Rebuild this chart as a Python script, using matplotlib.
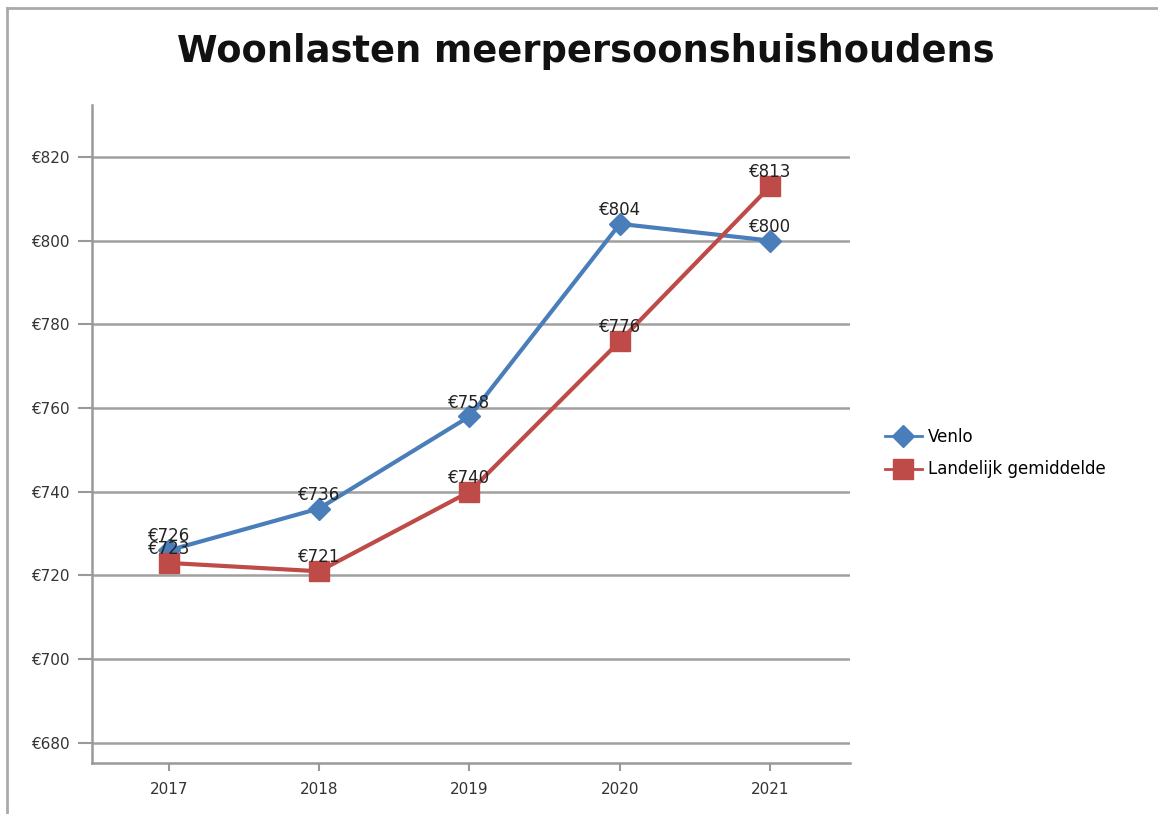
import matplotlib
matplotlib.use("Agg")
import matplotlib.pyplot as plt
from matplotlib.lines import Line2D

years = ["2017", "2018", "2019", "2020", "2021"]
venlo = [726, 736, 758, 804, 800]
landelijk = [723, 721, 740, 776, 813]
y_ticks = [680, 700, 720, 740, 760, 780, 800, 820]

BLUE = "#4a7ebb"
RED = "#be4b48"

fig = plt.figure(figsize=(11.58, 8.14), dpi=100)
ax = fig.add_axes([92 / 1158, 1 - 763 / 814, (850 - 92) / 1158, (763 - 105) / 814])

x = list(range(len(years)))
ax.plot(x, venlo, color=BLUE, lw=3, marker="D", ms=11,
        markerfacecolor=BLUE, markeredgecolor=BLUE, zorder=3, label="Venlo")
ax.plot(x, landelijk, color=RED, lw=3, marker="s", ms=14,
        markerfacecolor=RED, markeredgecolor=RED, zorder=4, label="Landelijk gemiddelde")

for xi, v in zip(x, venlo):
    ax.annotate(f"€{v}", (xi, v), xytext=(0, 10), textcoords="offset points",
                ha="center", va="center", fontsize=12, color="#222222", zorder=6)
for xi, v in zip(x, landelijk):
    ax.annotate(f"€{v}", (xi, v), xytext=(0, 10), textcoords="offset points",
                ha="center", va="center", fontsize=12, color="#222222", zorder=6)

ax.set_xlim(-0.51, len(years) - 0.47)
ax.set_ylim(675.2, 832.4)
ax.set_xticks(x)
ax.set_xticklabels(years)
ax.set_yticks(y_ticks)
ax.set_yticklabels([f"€{t}" for t in y_ticks])
ax.tick_params(axis="both", labelsize=11, colors="#333333")
ax.tick_params(axis="y", length=10, color="#999999", width=1.5, pad=6)
ax.tick_params(axis="x", length=6, color="#999999", width=1.5, pad=8)
ax.grid(axis="y", color="#a0a0a0", lw=1.8)
ax.set_axisbelow(True)
for side in ["top", "right"]:
    ax.spines[side].set_visible(False)
for side in ["left", "bottom"]:
    ax.spines[side].set_color("#999999")
    ax.spines[side].set_linewidth(1.8)

handles = [
    Line2D([], [], color=BLUE, lw=2, marker="D", ms=11, markeredgecolor=BLUE),
    Line2D([], [], color=RED, lw=2, marker="s", ms=14, markeredgecolor=RED),
]
fig.legend(handles, ["Venlo", "Landelijk gemiddelde"], loc="center left",
           bbox_to_anchor=(870 / 1158, 1 - 453 / 814), frameon=False,
           fontsize=12, handlelength=2.2, labelspacing=0.9, handletextpad=0.4)

fig.text(0.506, 1 - 51 / 814, "Woonlasten meerpersoonshuishoudens",
         ha="center", va="center", fontsize=26.5, fontweight="bold", color="#111111")

# grey frame around the chart
fig.add_artist(Line2D([7 / 1158, 7 / 1158], [0, 1 - 8 / 814],
                      transform=fig.transFigure, color="#aaaaaa", lw=2))
fig.add_artist(Line2D([7 / 1158, 1], [1 - 8 / 814, 1 - 8 / 814],
                      transform=fig.transFigure, color="#aaaaaa", lw=2))

fig.savefig("out.png", dpi=100)
